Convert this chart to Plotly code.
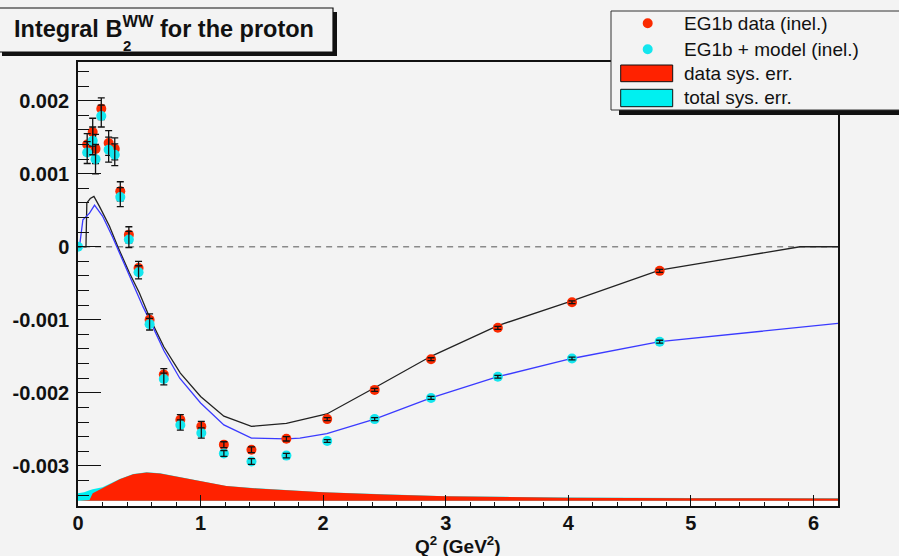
import plotly.graph_objects as go

# Measured points: Q^2 (GeV^2) and integral B2^WW
q2_points = [0.075, 0.12, 0.143, 0.19, 0.25, 0.30, 0.345, 0.415, 0.494, 0.584, 0.70,
             0.835, 1.006, 1.19, 1.415, 1.70, 2.033, 2.42, 2.88, 3.425, 4.03, 4.745]
b2_data = [0.00140, 0.00157, 0.00134, 0.00189, 0.00142, 0.00134, 0.00076, 0.000164,
           -0.00029, -0.00100, -0.00175, -0.00237, -0.00246, -0.00271, -0.00278,
           -0.00263, -0.00236, -0.00196, -0.00154, -0.00111, -0.00076, -0.00033]
b2_err = [0.00015, 0.00019, 0.00020, 0.00015, 0.00017, 0.00015, 0.00013, 0.00011,
          0.00009, 0.00008, 0.00008, 0.00007, 0.00007, 0.00004, 0.00004, 0.00003,
          0.00002, 0.00002, 0.00002, 0.00002, 0.00002, 0.00002]

q2_model_pts = [0.0] + q2_points
b2_model = [0.0, 0.00129, 0.00145, 0.00120, 0.00179, 0.00133, 0.00126, 0.00068, 0.00010,
            -0.00035, -0.00106, -0.00181, -0.00244, -0.00255, -0.00283, -0.00294,
            -0.00286, -0.00266, -0.00236, -0.00207, -0.00178, -0.00153, -0.00130]
b2_model_err = [0.0] + b2_err

# Curves
q2_curve_data = [0, 0.065, 0.072, 0.10, 0.13, 0.176, 0.257, 0.325, 0.42, 0.50, 0.584, 0.70,
                 0.835, 1.0, 1.19, 1.415, 1.70, 2.03, 2.42, 2.88, 3.425, 4.03, 4.745, 5.89, 6.2]
b2_curve_data = [0, 0, 0.0006, 0.00066, 0.00069, 0.00055, 0.00028, 0.0, -0.00036, -0.00063,
                 -0.00097, -0.00137, -0.00173, -0.00205, -0.00232, -0.00246, -0.00242,
                 -0.00229, -0.00193, -0.00150, -0.00108, -0.00074, -0.00032, 0.0, 0.0]
q2_curve_model = [0, 0.012, 0.04, 0.094, 0.135, 0.2, 0.28, 0.34, 0.42, 0.53, 0.6, 0.70, 0.83,
                  1.0, 1.19, 1.415, 1.70, 1.81, 2.03, 2.42, 2.88, 3.425, 4.03, 4.745, 6.2]
b2_curve_model = [0, 0, 0.00037, 0.00046, 0.00057, 0.00042, 0.00014, -0.00009, -0.00041,
                  -0.00082, -0.00106, -0.00142, -0.00180, -0.00214, -0.00244, -0.00262,
                  -0.00263, -0.00262, -0.00256, -0.00236, -0.00207, -0.00178, -0.00153,
                  -0.00130, -0.00105]

# Systematic error bands (heights above the band baseline)
q2_band = [0, 0.05, 0.094, 0.12, 0.2, 0.26, 0.34, 0.45, 0.56, 0.67, 0.8, 0.94, 1.1, 1.21,
           1.46, 1.7, 2.0, 2.5, 3.0, 3.5, 4.0, 5.0, 6.2]
sys_data = [0.0, 0.0, 0.00001, 0.00010, 0.000167, 0.000226, 0.000295, 0.000363, 0.000386,
            0.000373, 0.00033, 0.00028, 0.00023, 0.00020, 0.000167, 0.00014, 0.000115,
            0.000085, 0.00006, 0.00005, 0.00004, 0.000033, 0.00003]
sys_total = [0.00010, 0.000116, 0.000144, 0.000158, 0.000185, 0.000229, 0.000297, 0.000365,
             0.000388, 0.000375, 0.000332, 0.000282, 0.000232, 0.000202, 0.000169, 0.000142,
             0.000117, 0.000087, 0.000062, 0.000052, 0.000042, 0.000035, 0.000032]
band_base = -0.003477

x_ticks = [0, 1, 2, 3, 4, 5, 6]
x_ticktext = ["0", "1", "2", "3", "4", "5", "6"]
y_ticks = [-0.003, -0.002, -0.001, 0, 0.001, 0.002]
y_ticktext = ["-0.003", "-0.002", "-0.001", "0", "0.001", "0.002"]

X_RANGE = [0, 6.2]
Y_RANGE = [-0.00355, 0.00253]

W, H = 899, 556
ML, MR, MT, MB = 78, 61, 62, 50
PW, PH = W - ML - MR, H - MT - MB

FONT = "Liberation Sans, Arial, Helvetica, sans-serif"
BG = "#f3f3f3"
RED = "#fa2a00"
CYAN = "#14e6ee"


def px(xp):
    return (xp - ML) / PW


def py(yp):
    return (H - MB - yp) / PH


fig = go.Figure()

# total systematic band
fig.add_trace(go.Scatter(
    x=q2_band + q2_band[::-1],
    y=[band_base + v for v in sys_total] + [band_base] * len(q2_band),
    fill="toself", fillcolor="#00eef0", line=dict(width=0), mode="lines",
    hoverinfo="skip", showlegend=False))
# data systematic band
fig.add_trace(go.Scatter(
    x=q2_band + q2_band[::-1],
    y=[band_base + v for v in sys_data] + [band_base] * len(q2_band),
    fill="toself", fillcolor="#ff2200", line=dict(width=0), mode="lines",
    hoverinfo="skip", showlegend=False))

# zero reference line
fig.add_trace(go.Scatter(
    x=[0.05, 6.2], y=[0, 0], mode="lines",
    line=dict(color="#8a8a8a", width=1.6, dash="6px,5px"),
    hoverinfo="skip", showlegend=False))

# curves
fig.add_trace(go.Scatter(
    x=q2_curve_data, y=b2_curve_data, mode="lines",
    line=dict(color="#222222", width=1.3), showlegend=False))
fig.add_trace(go.Scatter(
    x=q2_curve_model, y=b2_curve_model, mode="lines",
    line=dict(color="#3a3aff", width=1.3), showlegend=False))

# data points
fig.add_trace(go.Scatter(
    x=q2_points, y=b2_data, mode="markers",
    marker=dict(color=RED, size=10), showlegend=False))
fig.add_trace(go.Scatter(
    x=q2_points, y=b2_data, mode="markers",
    marker=dict(color="rgba(0,0,0,0)", size=1),
    error_y=dict(type="data", array=b2_err, color="#111111", thickness=1.3, width=3.5),
    showlegend=False))
fig.add_trace(go.Scatter(
    x=q2_model_pts, y=b2_model, mode="markers",
    marker=dict(color=CYAN, size=10), showlegend=False))
fig.add_trace(go.Scatter(
    x=q2_model_pts, y=b2_model, mode="markers",
    marker=dict(color="rgba(0,0,0,0)", size=1),
    error_y=dict(type="data", array=b2_model_err, color="#111111", thickness=1.3, width=3.5),
    showlegend=False))

shapes = []
# white strip under the bands along the x axis
shapes.append(dict(type="rect", xref="x", yref="y", x0=0, x1=6.2,
                   y0=Y_RANGE[0], y1=band_base, fillcolor="white",
                   line=dict(width=0), layer="below"))

# title box with shadow
shapes.append(dict(type="rect", xref="paper", yref="paper",
                   x0=px(2), x1=px(337), y0=py(56), y1=py(12),
                   fillcolor="#111111", line=dict(width=0), layer="above"))
shapes.append(dict(type="rect", xref="paper", yref="paper",
                   x0=px(-3), x1=px(333), y0=py(52), y1=py(8),
                   fillcolor=BG, line=dict(color="#111111", width=1.2), layer="above"))

# legend box with shadow
shapes.append(dict(type="rect", xref="paper", yref="paper",
                   x0=px(619), x1=px(910), y0=py(115), y1=py(15),
                   fillcolor="#111111", line=dict(width=0), layer="above"))
shapes.append(dict(type="rect", xref="paper", yref="paper",
                   x0=px(611), x1=px(905), y0=py(110), y1=py(11),
                   fillcolor=BG, line=dict(color="#333333", width=1), layer="above"))

# legend symbols
for cy, col in [(23.3, RED), (49.3, CYAN)]:
    shapes.append(dict(type="circle", xref="paper", yref="paper",
                       x0=px(642.7), x1=px(652.7), y0=py(cy + 5), y1=py(cy - 5),
                       fillcolor=col, line=dict(width=0), layer="above"))
for (y0, y1), col in [((65, 81.7), "#ff2200"), ((89.3, 106.7), "#00f0f0")]:
    shapes.append(dict(type="rect", xref="paper", yref="paper",
                       x0=px(620.7), x1=px(672.7), y0=py(y1), y1=py(y0),
                       fillcolor=col, line=dict(color="#111111", width=1), layer="above"))

annotations = []
legend_labels = ["EG1b data (inel.)", "EG1b + model (inel.)", "data sys. err.", "total sys. err."]
for lab, cy in zip(legend_labels, [23.3, 49.3, 73.3, 98]):
    annotations.append(dict(text=lab, xref="paper", yref="paper", x=px(682), y=py(cy),
                            xanchor="left", yanchor="middle", showarrow=False,
                            font=dict(family=FONT, size=19, color="#111111")))

# title
annotations.append(dict(text="Integral B<sup>WW</sup> for the proton", xref="paper", yref="paper",
                        x=px(12), y=py(27), xanchor="left", yanchor="middle", showarrow=False,
                        font=dict(family=FONT, size=23.5, color="#111111", weight="bold")))
annotations.append(dict(text="2", xref="paper", yref="paper",
                        x=px(127), y=py(46), xanchor="center", yanchor="middle", showarrow=False,
                        font=dict(family=FONT, size=15, color="#111111", weight="bold")))

# x-axis title
annotations.append(dict(text="Q<sup>2</sup> (GeV<sup>2</sup>)", xref="paper", yref="paper",
                        x=px(458), y=py(545), xanchor="center", yanchor="middle", showarrow=False,
                        font=dict(family=FONT, size=19, color="#111111", weight="bold")))

fig.update_layout(
    width=W, height=H,
    margin=dict(l=ML, r=MR, t=MT, b=MB, pad=0),
    paper_bgcolor=BG, plot_bgcolor=BG,
    shapes=shapes, annotations=annotations,
    showlegend=False,
    xaxis=dict(range=X_RANGE, tickvals=x_ticks, ticktext=x_ticktext,
               ticks="inside", ticklen=11, tickwidth=1.2, tickcolor="#111111",
               minor=dict(ticks="inside", ticklen=4, dtick=0.2, tick0=0,
                          tickcolor="#111111", tickwidth=1),
               showline=True, linecolor="#111111", linewidth=1.5, mirror=True,
               showgrid=False, zeroline=False, ticklabelstandoff=-2,
               tickfont=dict(family=FONT, size=20, color="#111111", weight="bold")),
    yaxis=dict(range=Y_RANGE, tickvals=y_ticks, ticktext=y_ticktext,
               ticks="inside", ticklen=23, tickwidth=1.2, tickcolor="#111111",
               minor=dict(ticks="inside", ticklen=11.5, dtick=0.0002, tick0=0,
                          tickcolor="#111111", tickwidth=1),
               showline=True, linecolor="#111111", linewidth=1.5, mirror=True,
               showgrid=False, zeroline=False, ticklabelstandoff=3,
               tickfont=dict(family=FONT, size=20, color="#111111", weight="bold")),
)

fig.write_html("out.html")
